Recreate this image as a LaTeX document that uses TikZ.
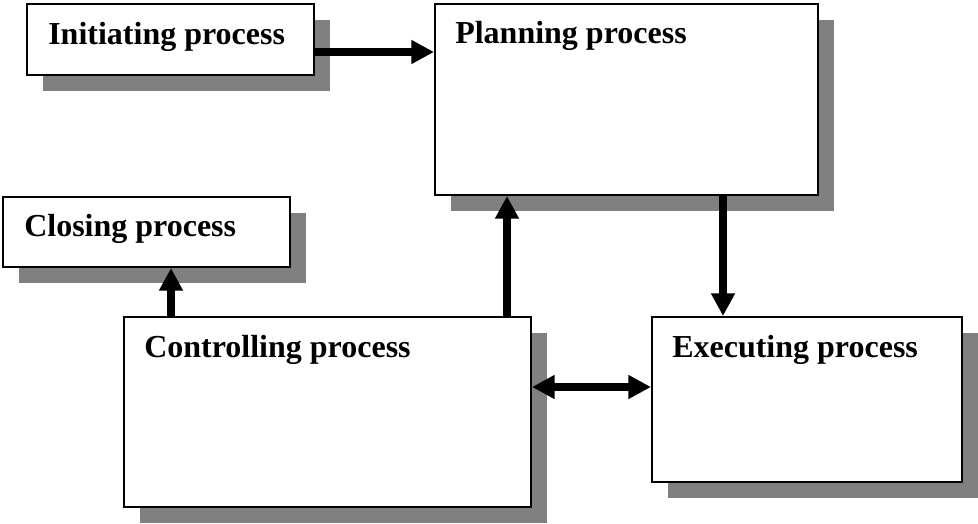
\documentclass[tikz,border=0pt]{standalone}
\usepackage{fontspec}
\setmainfont{Liberation Serif}
\usetikzlibrary{arrows.meta,shadows}
\definecolor{shade}{RGB}{128,128,128}
\tikzset{
  box/.style={draw=black, line width=1.5pt, fill=white, inner sep=0pt,
    general shadow={fill=shade, shadow xshift=12pt, shadow yshift=-12pt}},
  lbl/.style={anchor=base west, inner sep=0pt, font=\fontsize{24pt}{28pt}\selectfont\bfseries},
  tip/.tip={Triangle[length=17pt,width=17pt]},
  arr/.style={line width=6pt, -tip},
  darr/.style={line width=6pt, tip-tip},
}
\begin{document}
\begin{tikzpicture}[x=0.75pt,y=-0.75pt]
  \useasboundingbox (0,0) rectangle (978,524);
  % boxes
  \node[box, minimum width=215.25pt, minimum height=53.25pt] (init) at (170.5,39.5) {};
  \node[box, minimum width=287.25pt, minimum height=143.25pt] (plan) at (626.5,99.5) {};
  \node[box, minimum width=215.25pt, minimum height=52.5pt] (close) at (146.5,232) {};
  \node[box, minimum width=305.25pt, minimum height=142.5pt] (ctrl) at (327.5,412) {};
  \node[box, minimum width=232.5pt, minimum height=123.75pt] (exec) at (807,399.5) {};
  % labels
  \node[lbl] (initT) at ([xshift=16.5pt,yshift=-31.5pt]init.north west) {Initiating process};
  \node[lbl] (planT) at ([xshift=15.75pt,yshift=-30.75pt]plan.north west) {Planning process};
  \node[lbl] (closeT) at ([xshift=16.5pt,yshift=-30.75pt]close.north west) {Closing process};
  \node[lbl] (ctrlT) at ([xshift=15.75pt,yshift=-30.75pt]ctrl.north west) {Controlling process};
  \node[lbl] (execT) at ([xshift=15.75pt,yshift=-30.75pt]exec.north west) {Executing process};
  % connector guides
  \coordinate (ya) at (0,52);
  \coordinate (yd) at (0,387);
  \coordinate (xc) at (171,0);
  \coordinate (xp) at (507,0);
  \coordinate (xe) at (723,0);
  % connectors
  \draw[arr] (init.east |- ya) -- (plan.west |- ya);
  \draw[arr] (ctrl.north -| xc) -- (close.south -| xc);
  \draw[arr] (ctrl.north -| xp) -- (plan.south -| xp);
  \draw[arr] (plan.south -| xe) -- (exec.north -| xe);
  \draw[darr] (ctrl.east |- yd) -- (exec.west |- yd);
\end{tikzpicture}
\end{document}
